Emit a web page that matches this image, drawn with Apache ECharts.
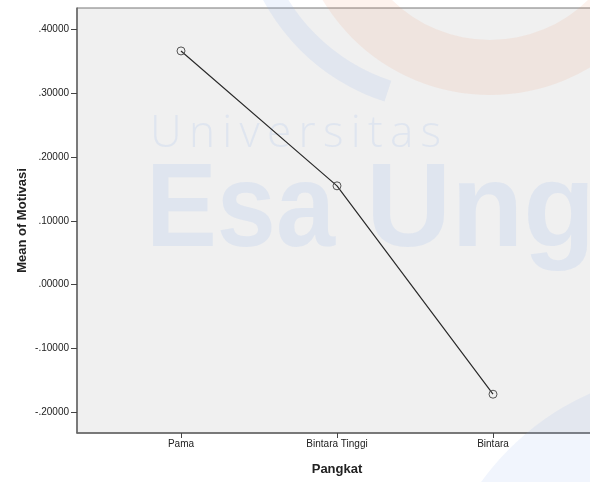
<!DOCTYPE html>
<html>
<head>
<meta charset="utf-8">
<script src="https://cdn.jsdelivr.net/npm/echarts@6/dist/echarts.min.js"></script>
<style>
  html, body { margin: 0; padding: 0; background: #fff; }
  #main { width: 590px; height: 482px; }
</style>
</head>
<body>
<div id="main"></div>
<script>
var categories = ['Pama', 'Bintara Tinggi', 'Bintara']
var means = [0.3665, 0.155, -0.1717]
var yTicks = [-0.2, -0.1, 0, 0.1, 0.2, 0.3, 0.4]
var xTicks = [0, 1, 2]

var dom = document.getElementById('main')
var myChart = echarts.init(dom)

// SPSS style labels: .40000, -.10000
function spssFmt(v) {
  var s = Math.abs(v).toFixed(5).replace(/^0/, '')
  return (v < 0 ? '-' : '') + s
}

var wmBlue = 'rgba(140,175,235,0.17)'

// "Universitas" in the watermark is letter-spaced, so place each letter
var wmFont = '300 44px "Open Sans", "Liberation Sans"'
var ctx = document.createElement('canvas').getContext('2d')
ctx.font = wmFont
var wmLetters = []
var xx = 150
'Universitas'.split('').forEach(function (ch) {
  wmLetters.push({
    type: 'text',
    z: 1,
    silent: true,
    x: xx,
    y: 112,
    style: { text: ch, fill: wmBlue, font: wmFont },
  })
  xx += ctx.measureText(ch).width + 7.3
})

var option = {
  animation: false,
  textStyle: { fontFamily: 'Liberation Sans' },
  grid: {
    left: 77,
    top: 8,
    width: 520,
    height: 425,
    outerBoundsMode: 'none',
    show: true,
    backgroundColor: '#f0f0f0',
    borderColor: '#777',
    borderWidth: 1,
  },
  // watermark behind the line
  graphic: [
    {
      type: 'sector',
      z: 1,
      silent: true,
      shape: { cx: 490, cy: -100, r0: 140, r: 195, startAngle: 0, endAngle: Math.PI },
      style: { fill: 'rgba(240,150,110,0.12)' },
    },
    {
      type: 'sector',
      z: 1,
      silent: true,
      shape: { cx: 450, cy: -100, r0: 190, r: 212, startAngle: Math.PI * 0.6, endAngle: Math.PI * 0.9 },
      style: { fill: 'rgba(140,175,235,0.15)' },
    },
    {
      type: 'sector',
      z: 1,
      silent: true,
      shape: { cx: 700, cy: 640, r0: 0, r: 270, startAngle: Math.PI * 1.05, endAngle: Math.PI * 1.5 },
      style: { fill: 'rgba(140,175,235,0.12)' },
    },
    {
      type: 'text',
      z: 1,
      silent: true,
      x: 146,
      y: 154,
      scaleX: 0.9,
      style: {
        text: 'Esa',
        fill: wmBlue,
        font: 'bold 118px "Liberation Sans"',
      },
    },
    {
      type: 'text',
      z: 1,
      silent: true,
      x: 366,
      y: 154,
      style: {
        text: 'Ung',
        fill: wmBlue,
        font: 'bold 118px "Liberation Sans"',
      },
    },
  ].concat(wmLetters),
  xAxis: {
    type: 'value',
    min: -2 / 3,
    max: 8 / 3,
    name: 'Pangkat',
    nameLocation: 'middle',
    nameGap: 30,
    nameMoveOverlap: false,
    nameTextStyle: { fontSize: 13, fontWeight: 'bold', color: '#222' },
    axisLine: { show: true, onZero: false, lineStyle: { color: '#666', width: 1.5 } },
    axisTick: { show: true, length: 5, lineStyle: { color: '#444' }, customValues: xTicks },
    axisLabel: {
      customValues: xTicks,
      fontSize: 10,
      color: '#222',
      margin: 6,
      formatter: function (v) {
        return categories[Math.round(v)]
      },
    },
    splitLine: { show: false },
  },
  yAxis: {
    type: 'value',
    min: -0.2325,
    max: 0.4338,
    name: 'Mean of Motivasi',
    nameLocation: 'middle',
    nameGap: 48,
    nameMoveOverlap: false,
    nameTextStyle: { fontSize: 13, fontWeight: 'bold', color: '#222' },
    axisLine: { show: true, onZero: false, lineStyle: { color: '#666', width: 1.5 } },
    axisTick: { show: true, length: 6, lineStyle: { color: '#444' }, customValues: yTicks },
    axisLabel: {
      customValues: yTicks,
      fontSize: 10,
      color: '#222',
      margin: 8,
      formatter: spssFmt,
    },
    splitLine: { show: false },
  },
  series: [
    {
      type: 'line',
      z: 5,
      data: means.map(function (v, i) {
        return [i, v]
      }),
      symbol: 'circle',
      symbolSize: 8,
      lineStyle: { color: '#2a2a2a', width: 1.2 },
      itemStyle: { color: 'rgba(240,240,240,0)', borderColor: '#555', borderWidth: 1 },
    },
  ],
}

myChart.setOption(option)
</script>
</body>
</html>
